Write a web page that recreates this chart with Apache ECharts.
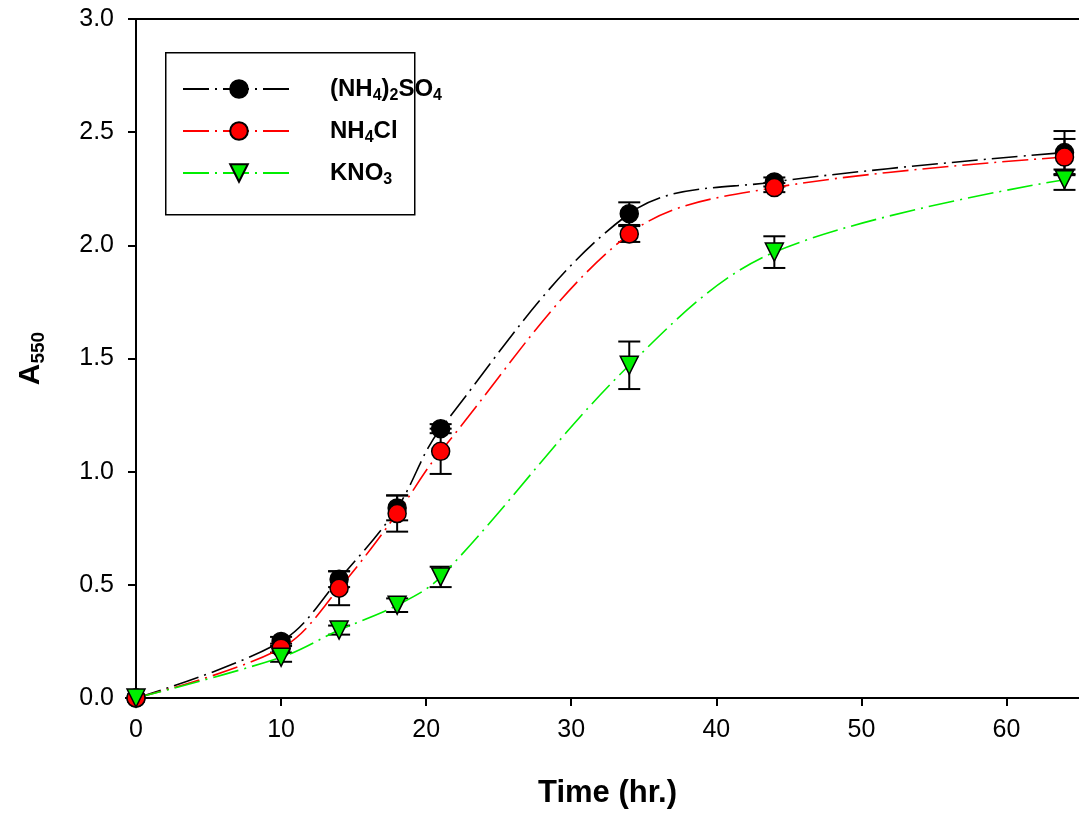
<!DOCTYPE html>
<html>
<head>
<meta charset="utf-8">
<script src="https://cdn.jsdelivr.net/npm/echarts@6/dist/echarts.min.js"></script>
<style>
  html, body { margin: 0; padding: 0; background: #fff; }
  #chart { width: 1079px; height: 814px; }
</style>
</head>
<body>
<div id="chart"></div>
<script>
// data
const timeHr = [0, 10, 14, 18, 21, 34, 44, 64];
const nh4so4 = [0, 0.25, 0.525, 0.84, 1.19, 2.14, 2.28, 2.41];
const nh4so4Err = [0, 0.02, 0.035, 0.055, 0.02, 0.05, 0.02, 0.095];
const nh4cl = [0, 0.22, 0.485, 0.815, 1.09, 2.05, 2.255, 2.39];
const nh4clErr = [0, 0.02, 0.075, 0.08, 0.1, 0.035, 0.02, 0.08];
const kno3 = [0, 0.18, 0.30, 0.41, 0.535, 1.47, 1.97, 2.29];
const kno3Err = [0, 0.02, 0.02, 0.03, 0.045, 0.105, 0.07, 0.045];
const xTicks = [0, 10, 20, 30, 40, 50, 60];

const FONT = "'Liberation Sans', Arial, sans-serif";
const DASH = [26, 6, 2, 6];

function pairs(ys) {
  return timeHr.map((t, i) => [t, ys[i]]);
}
function errData(ys, es) {
  return timeHr.map((t, i) => [t, ys[i] - es[i], ys[i] + es[i]]);
}

// vertical error bar with caps
function renderErr(params, api) {
  const x = api.value(0);
  const lo = api.coord([x, api.value(1)]);
  const hi = api.coord([x, api.value(2)]);
  const w = 11;
  const st = { stroke: '#000', lineWidth: 2 };
  return {
    type: 'group',
    children: [
      { type: 'line', shape: { x1: hi[0], y1: hi[1], x2: lo[0], y2: lo[1] }, style: st },
      { type: 'line', shape: { x1: hi[0] - w, y1: hi[1], x2: hi[0] + w, y2: hi[1] }, style: st },
      { type: 'line', shape: { x1: lo[0] - w, y1: lo[1], x2: lo[0] + w, y2: lo[1] }, style: st }
    ]
  };
}

function lineSeries(name, ys, color, symbol, rot) {
  return {
    name: name,
    type: 'line',
    data: pairs(ys),
    smooth: 0.35,
    symbol: symbol,
    symbolSize: 18,
    symbolRotate: rot,
    z: 5,
    lineStyle: { color: color, width: 1.6, type: DASH },
    itemStyle: { color: color, borderColor: '#000', borderWidth: 1.5 }
  };
}
function errSeries(ys, es) {
  return {
    type: 'custom',
    renderItem: renderErr,
    data: errData(ys, es),
    z: 3,
    silent: true,
    encode: { x: 0, y: [1, 2] }
  };
}

const sub = {
  n: { fontSize: 24, fontWeight: 'bold', fontFamily: FONT, color: '#000', lineHeight: 30, verticalAlign: 'middle' },
  s: { fontSize: 16, fontWeight: 'bold', fontFamily: FONT, color: '#000', lineHeight: 15, verticalAlign: 'bottom' }
};
const legendLabels = {
  'so4': '{n|(NH}{s|4}{n|)}{s|2}{n|SO}{s|4}',
  'cl': '{n|NH}{s|4}{n|Cl}',
  'no3': '{n|KNO}{s|3}'
};

const chart = echarts.init(document.getElementById('chart'));
chart.setOption({
  animation: false,
  backgroundColor: '#fff',
  grid: { left: 136, right: 0, top: 19, bottom: 115 },
  graphic: [{
    type: 'rect',
    left: 165,
    top: 52,
    z: 0,
    shape: { width: 249, height: 162 },
    style: { fill: '#fff', stroke: '#000', lineWidth: 1.5 }
  }],
  legend: {
    left: 165,
    top: 52,
    orient: 'vertical',
    padding: [25, 0, 0, 17],
    itemWidth: 112,
    itemHeight: 22,
    itemGap: 15,
    data: ['so4', 'cl', 'no3'],
    formatter: n => legendLabels[n],
    textStyle: { padding: [0, 0, 0, 30], rich: sub }
  },
  xAxis: [{
    type: 'value',
    min: 0,
    max: 65,
    interval: 10,
    name: 'Time (hr.)',
    nameLocation: 'middle',
    nameGap: 80,
    nameTextStyle: { fontSize: 31, fontWeight: 'bold', fontFamily: FONT, color: '#000' },
    axisLine: { lineStyle: { color: '#000', width: 2 } },
    axisTick: { inside: false, length: 8, lineStyle: { color: '#000', width: 2 }, customValues: xTicks },
    axisLabel: { fontSize: 25, fontFamily: FONT, color: '#000', margin: 20, customValues: xTicks },
    splitLine: { show: false }
  }, {
    type: 'value',
    position: 'top',
    min: 0,
    max: 65,
    axisLine: { show: true, onZero: false, lineStyle: { color: '#000', width: 2 } },
    axisTick: { show: false },
    axisLabel: { show: false },
    splitLine: { show: false }
  }],
  yAxis: {
    type: 'value',
    min: 0,
    max: 3,
    interval: 0.5,
    name: '{a|A}{s|550}',
    nameLocation: 'middle',
    nameRotate: 90,
    nameGap: 88,
    nameTextStyle: {
      rich: {
        a: { fontSize: 30, fontWeight: 'bold', fontFamily: FONT, color: '#000', lineHeight: 34, verticalAlign: 'middle' },
        s: { fontSize: 19, fontWeight: 'bold', fontFamily: FONT, color: '#000', lineHeight: 19, verticalAlign: 'bottom' }
      }
    },
    axisLine: { show: true, lineStyle: { color: '#000', width: 2 } },
    axisTick: { show: true, inside: false, length: 8, lineStyle: { color: '#000', width: 2 } },
    axisLabel: { fontSize: 25, fontFamily: FONT, color: '#000', margin: 22, formatter: v => v.toFixed(1) },
    splitLine: { show: false }
  },
  series: [
    errSeries(nh4so4, nh4so4Err),
    errSeries(nh4cl, nh4clErr),
    errSeries(kno3, kno3Err),
    lineSeries('so4', nh4so4, '#000000', 'circle', 0),
    lineSeries('cl', nh4cl, '#ff0000', 'circle', 0),
    lineSeries('no3', kno3, '#00ee00', 'triangle', 180)
  ]
});
</script>
</body>
</html>
